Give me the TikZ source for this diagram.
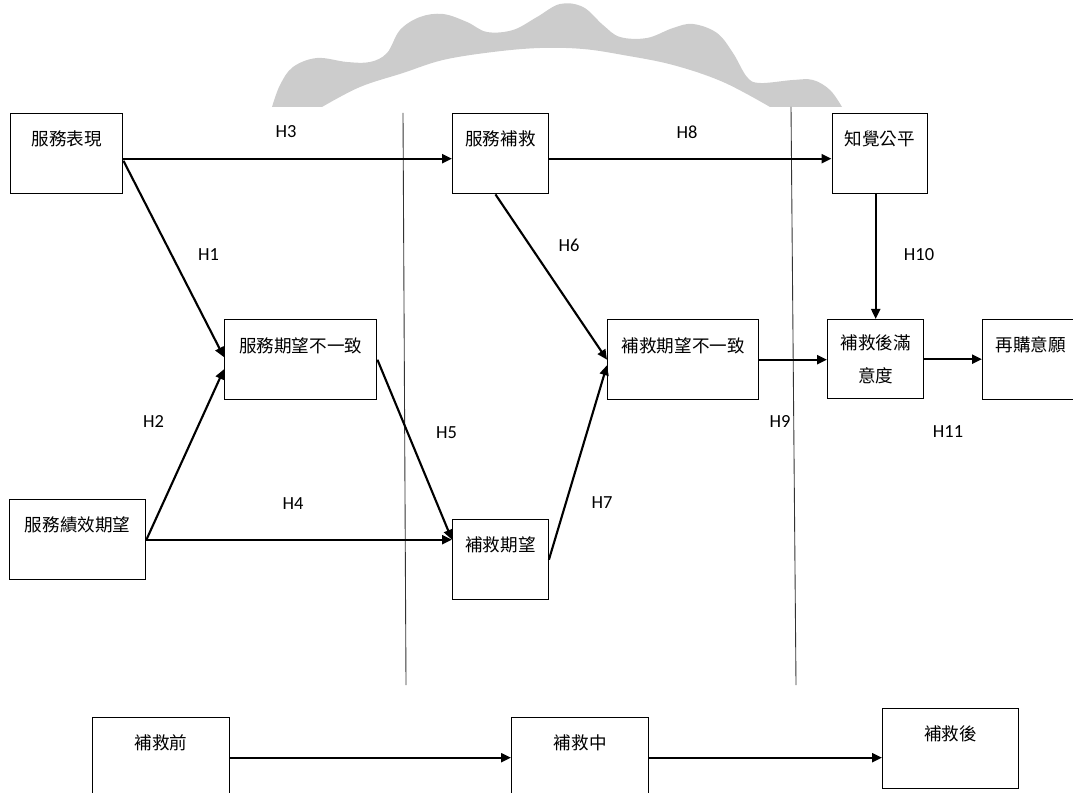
\documentclass[tikz,border=0pt]{standalone}
\usepackage{fontspec}
\setmainfont{Carlito}
\newfontfamily\cjk{Noto Sans CJK TC}
\usetikzlibrary{arrows.meta}
\definecolor{wolkgrijs}{gray}{0.8}

\begin{document}
\begin{tikzpicture}[>={Triangle[length=0.2cm,width=0.18cm]},
    vak/.style={draw, line width=0.8pt, anchor=north west, inner sep=0pt,
      minimum height=1.6cm, font=\cjk\fontsize{10}{12}\selectfont},
    topvak/.style={vak, text height=0.63cm, text depth=0.97cm},
    pijl/.style={->, line width=1.2pt},
    hyp/.style={font=\fontsize{10.5}{12}\selectfont}]

  \useasboundingbox (0,0) rectangle (21.46,-15.86);

  % Grijze vorm bovenaan
  \fill[wolkgrijs] plot[smooth, tension=0.6] coordinates {
      (5.44,-2.14) (5.60,-1.70) (5.86,-1.34) (6.34,-1.16) (6.94,-1.24)
      (7.40,-1.24) (7.74,-1.06) (8.00,-0.60) (8.40,-0.34) (8.86,-0.28)
      (9.34,-0.44) (9.74,-0.64) (10.26,-0.60) (10.74,-0.34) (11.20,-0.08)
      (11.66,-0.14) (12.06,-0.50) (12.40,-0.74) (12.94,-0.76) (13.46,-0.56)
      (13.86,-0.48) (14.34,-0.66) (14.66,-1.06) (14.94,-1.54) (15.20,-1.66)
      (15.86,-1.60) (16.26,-1.60) (16.60,-1.80) (16.84,-2.14)}
    -- plot[smooth, tension=0.6] coordinates {
      (15.40,-2.14) (14.46,-1.64) (13.46,-1.30) (12.46,-1.10) (11.66,-0.98)
      (10.80,-0.96) (9.86,-1.04) (8.86,-1.20) (8.06,-1.46) (7.20,-1.74)
      (6.44,-2.14)} -- cycle;

  % Scheidingslijnen
  \draw[gray!40!black, line width=0.5pt] (8.06,-2.26) -- (8.12,-13.70);
  \draw[gray!40!black, line width=0.5pt] (15.82,-2.14) -- (15.92,-13.70);

  % Vakken
  \node[topvak, minimum width=2.24cm] (perf) at (0.20,-2.26) {服務表現};
  \node[topvak, minimum width=1.91cm] (recov) at (9.04,-2.26) {服務補救};
  \node[topvak, minimum width=1.91cm] (fair) at (16.63,-2.26) {知覺公平};
  \node[topvak, minimum width=3.04cm, text depth=0.91cm] (sdisc) at (4.48,-6.38) {服務期望不一致};
  \node[topvak, minimum width=3.02cm, text depth=0.91cm] (rdisc) at (12.14,-6.38) {補救期望不一致};
  \node[vak, minimum width=1.92cm, minimum height=1.58cm, align=center] (sat) at (16.54,-6.38) {補救後滿\\[0.24cm]意度};
  \node[topvak, minimum width=1.92cm, text depth=0.95cm] (rebuy) at (19.64,-6.38) {再購意願};
  \node[topvak, minimum width=2.72cm] (perfexp) at (0.18,-9.98) {服務績效期望};
  \node[topvak, minimum width=1.91cm] (rexp) at (9.04,-10.38) {補救期望};

  % Fasen onderaan
  \node[topvak, minimum width=2.74cm] (before) at (1.84,-14.34) {補救前};
  \node[topvak, minimum width=2.74cm] (during) at (10.22,-14.34) {補救中};
  \node[topvak, minimum width=2.72cm] (after) at (17.64,-14.16) {補救後};

  % Pijlen
  \draw[pijl] ([yshift=-0.1cm]perf.east) -- ([yshift=-0.1cm]recov.west);
  \draw[pijl] ([yshift=-0.1cm]recov.east) -- ([yshift=-0.1cm]fair.west);
  \draw[pijl] ([yshift=-0.14cm]perf.east) -- ([yshift=0.05cm]sdisc.west);
  \draw[pijl] (perfexp.east) -- ([yshift=-0.19cm]sdisc.west);
  \draw[pijl] (perfexp.east) -- (perfexp.east -| rexp.west);
  \draw[pijl] (sdisc.east) -- (perfexp.east -| rexp.west);
  \draw[pijl] ([xshift=-0.1cm]recov.south) -- (rdisc.west);
  \draw[pijl] (rexp.east) -- ([yshift=-0.11cm]rdisc.west);
  \draw[pijl] (rdisc.east) -- (rdisc.east -| sat.west);
  \draw[pijl] (sat.north |- fair.south) -- (sat.north);
  \draw[pijl] (sat.east) -- (sat.east -| rebuy.west);
  \draw[pijl] (before.east) -- (during.west);
  \draw[pijl] (during.east) -- (during.east -| after.west);

  % Hypothesen
  \node[hyp] (h1) at (4.17,-5.10) {H1};
  \node[hyp] (h2) at (3.07,-8.44) {H2};
  \node[hyp] (h3) at (5.72,-2.64) {H3};
  \node[hyp] (h4) at (5.86,-10.08) {H4};
  \node[hyp] (h5) at (8.93,-8.66) {H5};
  \node[hyp] (h6) at (11.38,-4.90) {H6};
  \node[hyp] (h7) at (12.04,-10.06) {H7};
  \node[hyp] (h8) at (13.74,-2.64) {H8};
  \node[hyp] (h9) at (15.60,-8.44) {H9};
  \node[hyp] (h10) at (18.38,-5.09) {H10};
  \node[hyp] (h11) at (18.96,-8.64) {H11};

\end{tikzpicture}
\end{document}
